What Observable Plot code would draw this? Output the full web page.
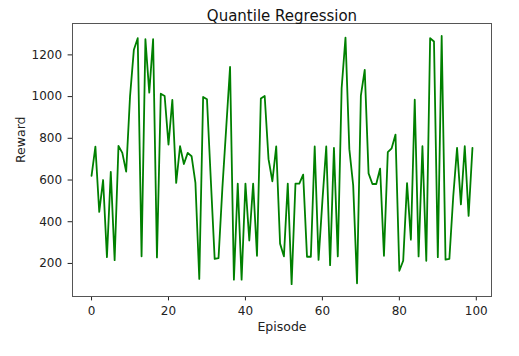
<!DOCTYPE html>
<html>
<head>
<meta charset="utf-8">
<script src="https://cdn.jsdelivr.net/npm/d3@7"></script>
<script src="https://cdn.jsdelivr.net/npm/@observablehq/plot@0.6"></script>
<style>
  html, body { margin: 0; padding: 0; background: white; }
</style>
</head>
<body>
<div id="chart"></div>
<script>
const title = "Quantile Regression";
const xLabel = "Episode";
const yLabel = "Reward";
const xTicks = [0, 20, 40, 60, 80, 100];
const yTicks = [200, 400, 600, 800, 1000, 1200];
const rewards = [
  620, 760, 447, 600, 230, 639, 216, 764, 730, 640,
  1000, 1225, 1280, 234, 1275, 1019, 1275, 229, 1014, 1003,
  770, 984, 586, 762, 677, 730, 714, 586, 126, 998,
  987, 600, 222, 225, 560, 850, 1142, 122, 583, 122,
  583, 310, 583, 237, 991, 1003, 700, 594, 761, 295,
  234, 583, 101, 583, 583, 626, 232, 232, 761, 217,
  500, 761, 192, 754, 234, 1040, 1283, 748, 575, 105,
  1005, 1128, 632, 581, 581, 655, 237, 734, 752, 818,
  165, 213, 585, 314, 985, 234, 762, 213, 1280, 1264,
  230, 1291, 218, 222, 520, 754, 483, 762, 428, 754
];

const data = rewards.map((r, i) => ({episode: i, reward: r}));
const n = rewards.length;
const xPad = (n - 1) * 0.05;
const yMin = d3.min(rewards), yMax = d3.max(rewards);
const yPad = (yMax - yMin) * 0.05;

const chart = Plot.plot({
  width: 519,
  height: 356,
  marginLeft: 72,
  marginRight: 28,
  marginTop: 23,
  marginBottom: 60,
  style: {fontFamily: "DejaVu Sans", fontSize: "12px", background: "white", color: "#222"},
  x: {domain: [-xPad, n - 1 + xPad], ticks: xTicks, tickSize: 4.4, tickPadding: 5.5, tickFormat: d3.format("d"), label: null},
  y: {domain: [yMin - yPad, yMax + yPad], ticks: yTicks, tickSize: 4.4, tickPadding: 6, tickFormat: d3.format("d"), label: null},
  marks: [
    Plot.line(data, {x: "episode", y: "reward", stroke: "#008000", strokeWidth: 1.8}),
    Plot.frame({stroke: "#555", strokeWidth: 1}),
    Plot.text([title], {frameAnchor: "top", dy: -13, fontSize: 15, fill: "#111"}),
    Plot.text([xLabel], {frameAnchor: "bottom", dy: 34, fontSize: 12.5, fill: "#222"}),
    Plot.text([yLabel], {frameAnchor: "left", dx: -52, dy: 3, rotate: -90, fontSize: 12.5, fill: "#222"})
  ]
});
document.getElementById("chart").appendChild(chart);
</script>
</body>
</html>
